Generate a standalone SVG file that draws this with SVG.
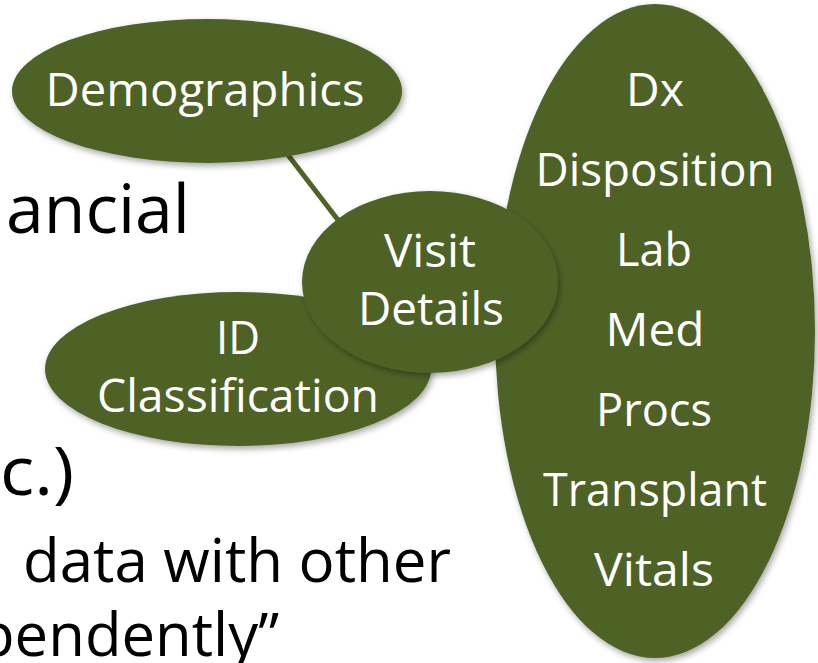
<svg xmlns="http://www.w3.org/2000/svg" width="818" height="663" viewBox="0 0 818 663">
  <defs>
    <filter id="shadow" x="-10%" y="-10%" width="125%" height="125%">
      <feDropShadow dx="2" dy="3" stdDeviation="3" flood-color="#000" flood-opacity="0.35"/>
    </filter>
    <style>
      .bg { font-family: "Open Sans", "Noto Sans", sans-serif; fill: #000; }
      .node { fill: #4f6228; filter: url(#shadow); }
      .lbl { font-family: "Open Sans", "Noto Sans", sans-serif; font-size: 46px; fill: #ffffff; text-anchor: middle; }
      .conn { stroke: #4f6228; stroke-width: 5; fill: none; }
    </style>
  </defs>
  <rect width="818" height="663" fill="#ffffff"/>

  <g id="background-text">
    <text class="bg" x="6" y="233" font-size="68" textLength="184" lengthAdjust="spacingAndGlyphs">ancial</text>
    <text class="bg" x="0" y="495" font-size="68" textLength="74" lengthAdjust="spacingAndGlyphs">c.)</text>
    <text class="bg" x="23" y="582" font-size="61" textLength="428" lengthAdjust="spacingAndGlyphs">data with other</text>
    <text class="bg" x="-22" y="656" font-size="61" textLength="301" lengthAdjust="spacingAndGlyphs">pendently”</text>
  </g>

  <g id="connectors">
    <line class="conn" x1="288" y1="155" x2="338" y2="220"/>
  </g>

  <g id="demographics">
    <ellipse class="node" cx="207" cy="91" rx="195" ry="72"/>
    <text class="lbl" x="205" y="106" textLength="319" lengthAdjust="spacingAndGlyphs">Demographics</text>
  </g>

  <g id="visit-attributes">
    <ellipse class="node" cx="655" cy="331" rx="160" ry="327"/>
    <text class="lbl" x="655" y="106" textLength="58" lengthAdjust="spacingAndGlyphs">Dx</text>
    <text class="lbl" x="655" y="186" textLength="239" lengthAdjust="spacingAndGlyphs">Disposition</text>
    <text class="lbl" x="654" y="266" textLength="76" lengthAdjust="spacingAndGlyphs">Lab</text>
    <text class="lbl" x="655" y="346" textLength="99" lengthAdjust="spacingAndGlyphs">Med</text>
    <text class="lbl" x="654" y="426" textLength="116" lengthAdjust="spacingAndGlyphs">Procs</text>
    <text class="lbl" x="655" y="506" textLength="224" lengthAdjust="spacingAndGlyphs">Transplant</text>
    <text class="lbl" x="654" y="586" textLength="120" lengthAdjust="spacingAndGlyphs">Vitals</text>
  </g>

  <g id="id-classification">
    <ellipse class="node" cx="238" cy="369" rx="193" ry="77"/>
    <text class="lbl" x="238" y="354" textLength="44" lengthAdjust="spacingAndGlyphs">ID</text>
    <text class="lbl" x="238" y="412" textLength="282" lengthAdjust="spacingAndGlyphs">Classification</text>
  </g>

  <g id="visit-details">
    <ellipse class="node" cx="430" cy="282" rx="128" ry="91"/>
    <text class="lbl" x="430" y="267" textLength="92" lengthAdjust="spacingAndGlyphs">Visit</text>
    <text class="lbl" x="431" y="325" textLength="146" lengthAdjust="spacingAndGlyphs">Details</text>
  </g>
</svg>
